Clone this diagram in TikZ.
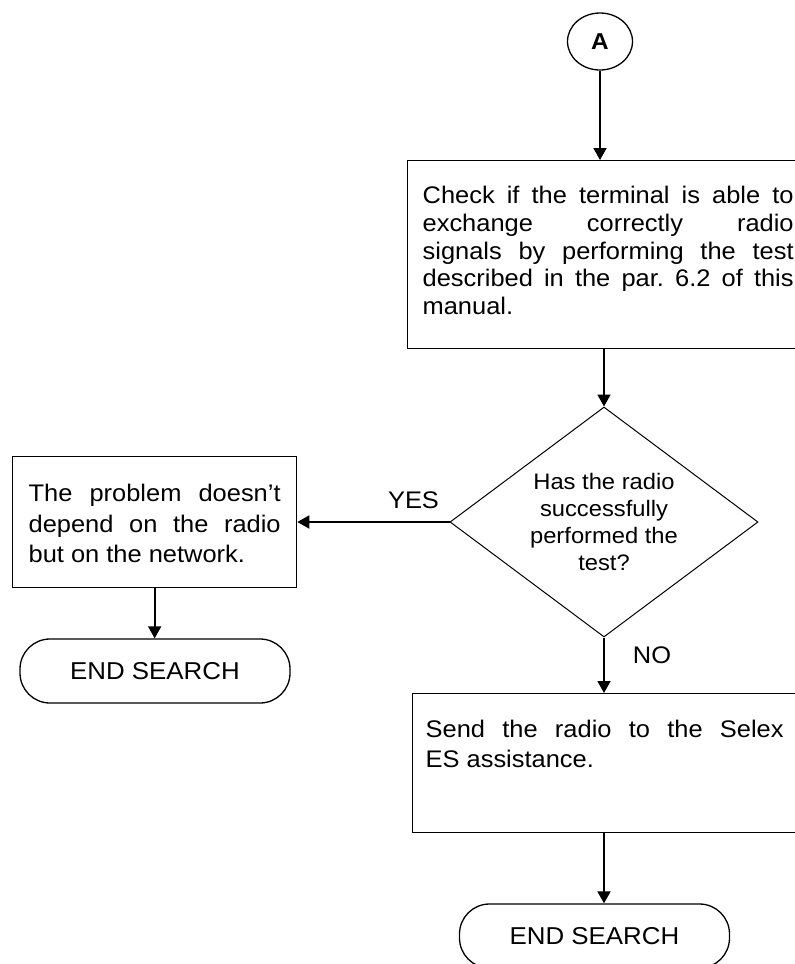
\documentclass[tikz,border=0pt]{standalone}
\usepackage{fontspec}
\setmainfont{Liberation Sans}[FakeStretch=1.06]
\usetikzlibrary{arrows.meta,shapes.geometric}
\begin{document}
\frenchspacing
\begin{tikzpicture}[x=1pt,y=-1pt,
  conn/.style={line width=1.8pt,-{Triangle[length=12pt,width=13pt]}},
  procbox/.style={draw,line width=1.3pt,anchor=north west,align=justify,inner ysep=0pt},
  term/.style={draw,line width=1.3pt,rounded corners=30pt,minimum width=270pt,minimum height=64pt,inner sep=0pt,font=\fontsize{24.4}{27}\selectfont},
  decision/.style={draw,diamond,line width=1pt,shape aspect=1.34,minimum width=308pt,minimum height=230pt,inner sep=0pt,align=center,font=\fontsize{22.4}{27}\selectfont},
  lbl/.style={anchor=base,font=\fontsize{24}{27}\selectfont}
]
\clip (0,0) rectangle (795,964);
\node[draw,ellipse,line width=1.3pt,minimum width=65pt,minimum height=57pt,inner sep=0pt,font=\bfseries\fontsize{23}{25}\selectfont] (A) at (600,41.5) {A};

\node[procbox,inner xsep=15pt,text width=371pt,text height=43pt,text depth=145pt,font=\fontsize{24}{27.75}\selectfont] (check) at (407,160)
 {Check if the terminal is able to\linebreak exchange correctly radio\linebreak signals by performing the test\linebreak described in the par. 6.2 of this\linebreak manual.};

\node[decision] (dec) at (604,522) {Has the radio\\successfully\\performed the\\test?};

\node[procbox,inner xsep=16pt,text width=252pt,text height=45pt,text depth=86pt,font=\fontsize{24}{30.5}\selectfont] (net) at (12,456)
 {The problem doesn’t\linebreak depend on the radio\linebreak but on the network.};

\node[procbox,inner xsep=13pt,text width=358pt,text height=44pt,text depth=95pt,font=\fontsize{24}{30}\selectfont] (send) at (412,693)
 {Send the radio to the Selex\linebreak ES assistance.};

\node[term] (end1) at (155,671) {END SEARCH};
\node[term] (end2) at (594.5,936) {END SEARCH};

\node[lbl] (yes) at (413.5,508) {YES};
\node[lbl] (no) at (652,663) {NO};

\draw[conn] (A.south) -- (A.south |- check.north);
\draw[conn] (dec.north |- check.south) -- (dec.north);
\draw[conn] (dec.west) -- (dec.west -| net.east);
\draw[conn] (net.south) -- (net.south |- end1.north);
\draw[conn] (dec.south) -- (dec.south |- send.north);
\draw[conn] (dec.south |- send.south) -- (dec.south |- end2.north);
\end{tikzpicture}
\end{document}
